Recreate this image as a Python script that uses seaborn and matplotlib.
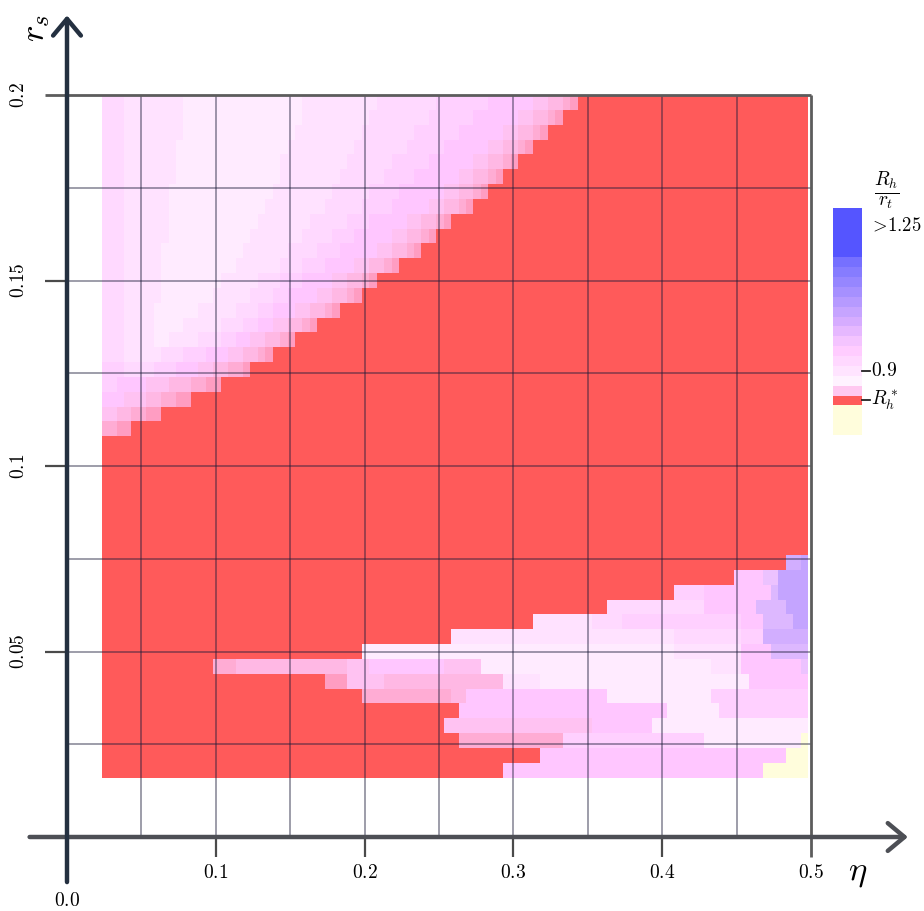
import numpy as np
import matplotlib
matplotlib.use("Agg")
import matplotlib.pyplot as plt
from matplotlib.colors import ListedColormap
import seaborn as sns

plt.rcParams["mathtext.fontset"] = "cm"

# map extent (eta across, r_s up); 95 columns x 46 rows, top row first
ETA_MIN, ETA_MAX = 0.0233, 0.498
RS_MIN, RS_MAX = 0.016, 0.2

# colour codes used in the rows
CODES = "YRabcdefghijklm"
CODE_COLORS = ["#fffddc", "#ff5a5a", "#ff9dc2", "#ffacd4", "#ffb8e4", "#ffc2f2",
               "#ffc6ff", "#ffd0ff", "#ffd9ff", "#ffe2ff", "#ffebff",
               "#ecc2ff", "#ddb8ff", "#d2aeff", "#c4a4ff"]

# run-length rows: code letter + number of cells
ROWS = [
    "g3 h8 i16 h10 g8 f7 e6 d2 c2 b1 a1 R31",
    "g3 h8 i16 h9 g8 f6 e6 d2 c2 b1 a1 R33",
    "g3 h8 i15 h9 g7 f6 e6 d2 c2 b1 a1 R35",
    "g3 h7 i15 h9 g7 f5 e6 d2 c2 b1 a1 R37",
    "g3 h7 i14 h9 g6 f5 e6 d2 c2 b1 a1 R39",
    "g3 h7 i14 h8 g6 f4 e6 d2 c2 b1 a1 R41",
    "g3 h6 i14 h8 g5 f4 e6 d2 c2 b1 a1 R43",
    "g3 h6 i13 h8 g5 f4 e5 d2 c2 b1 a1 R45",
    "g3 h6 i12 h7 g5 f3 e5 d2 c2 b1 a1 R48",
    "g3 h6 i11 h7 g4 f3 e5 d2 c2 b1 a1 R50",
    "g3 h5 i11 h6 g4 f3 e5 d2 c2 b1 a1 R52",
    "g3 h5 i10 h6 g3 f3 e4 d2 c2 b1 a1 R55",
    "g3 h5 i8 h5 g3 f3 e4 d2 c2 b1 a1 R58",
    "g3 h5 i7 h5 g3 f2 e4 d2 c2 b1 a1 R60",
    "g3 h4 i6 h5 g3 f2 e3 d2 c2 b1 a1 R63",
    "g3 h4 i4 h5 g3 f2 e2 d2 c2 b1 a1 R66",
    "g3 h4 i2 h4 g3 f2 e2 d2 c2 b1 a1 R69",
    "g3 h5 g3 f3 e3 d2 c2 b1 a1 R72",
    "f3 g4 f3 e3 d2 c2 b2 a1 R75",
    "f2 e4 d3 c3 b2 a2 R79",
    "e3 d3 c2 b2 a2 R83",
    "d2 c2 b2 a2 R87",
    "b2 a2 R91",
    "R95", "R95", "R95", "R95", "R95", "R95", "R95", "R95",
    "R92 l2 m1",
    "R85 e4 j2 m4",
    "R77 f4 e9 k1 m4",
    "R68 g13 e7 k4 m3",
    "R58 h8 g4 f16 e3 k4 m2",
    "R47 h30 g9 f3 l6",
    "R35 i42 h9 e4 k5",
    "R15 b3 c15 d3 e10 d5 i31 h4 e8 j1",
    "R30 a3 d5 c16 h5 i28 e8",
    "R35 b12 c2 e19 i14 f13",
    "R48 e28 i7 f12",
    "R46 d20 e8 i21",
    "R48 b14 f19 i13 Y1",
    "R59 e33 Y3",
    "R54 e35 Y6",
]

# colour bar bands, top to bottom
CBAR_COLORS = ["#5555ff"] * 5 + [
    "#7670ff", "#867cff", "#9686ff", "#a690ff", "#b69aff", "#c6a4ff", "#d6acff",
    "#e6b8ff", "#f4c4ff", "#ffccff", "#ffd8ff", "#ffe4ff", "#fff2ff", "#ffc8f0",
    "#ff5a5a"] + ["#fffddc"] * 3

ETA_TICKS = [0.1, 0.2, 0.3, 0.4, 0.5]
RS_TICKS = [0.05, 0.1, 0.15, 0.2]
ETA_GRID = [0.05, 0.1, 0.15, 0.2, 0.25, 0.3, 0.35, 0.4, 0.45]
RS_GRID = [0.025, 0.05, 0.075, 0.1, 0.125, 0.15, 0.175]


def decode(row):
    out = []
    for tok in row.split():
        out += [CODES.index(tok[0])] * int(tok[1:])
    return out


grid = np.array([decode(r) for r in ROWS])

W, H = 924, 911
fig = plt.figure(figsize=(W / 100, H / 100), dpi=100)
x0, xs = 67, 1488.0   # pixel of eta=0, pixels per unit eta
y0, ys = 837, 3710.0  # pixel of r_s=0, pixels per unit r_s

ax = fig.add_axes([0, 0, 1, 1])
ax.set_xlim(-x0 / xs, (W - x0) / xs)
ax.set_ylim(-(H - y0) / ys, y0 / ys)
ax.set_axis_off()
ax.set_zorder(3)
ax.patch.set_visible(False)

hax = fig.add_axes([(x0 + ETA_MIN * xs) / W, (H - y0 + RS_MIN * ys) / H,
                    (ETA_MAX - ETA_MIN) * xs / W, (RS_MAX - RS_MIN) * ys / H])
sns.heatmap(grid, ax=hax, cmap=ListedColormap(CODE_COLORS), vmin=-0.5,
            vmax=len(CODES) - 0.5, cbar=False, xticklabels=False, yticklabels=False)
hax.set_axis_off()

# grid lines
gkw = dict(color="#1c1c3a", lw=1.1, alpha=0.55, solid_capstyle="butt")
for e in ETA_GRID:
    ax.plot([e, e], [0, 0.2], **gkw)
for r in RS_GRID:
    ax.plot([0, 0.5], [r, r], **gkw)
fkw = dict(color="#5c5c5c", lw=2, solid_capstyle="butt")
ax.plot([-0.015, 0.5], [0.2, 0.2], **fkw)
ax.plot([0.5, 0.5], [-0.0055, 0.2], **fkw)
tkw = dict(color="#4a4a4a", lw=1.6, solid_capstyle="butt")
for e in ETA_TICKS[:-1]:
    ax.plot([e, e], [-0.0055, 0], **tkw)
for r in RS_TICKS[:-1]:
    ax.plot([-0.015, 0], [r, r], **tkw)

# axis arrows
ax.annotate("", xy=(0.567, 0), xytext=(-0.027, 0),
            arrowprops=dict(arrowstyle="->,head_length=0.6,head_width=0.5",
                            lw=3.2, color="#4d4f55", mutation_scale=20))
ax.annotate("", xy=(0, 0.2222), xytext=(0, -0.0129),
            arrowprops=dict(arrowstyle="->,head_length=0.6,head_width=0.5",
                            lw=3.2, color="#243040", mutation_scale=20))

for e in ETA_TICKS:
    ax.text(e, -0.0097, f"${e:g}$", ha="center", va="center", fontsize=14)
ax.text(0, -0.0172, "$0.0$", ha="center", va="center", fontsize=14)
for r in RS_TICKS:
    ax.text(-0.0323, r, f"${r:g}$", ha="center", va="center", fontsize=14, rotation=90)
ax.text(0.5316, -0.0094, r"$\eta$", ha="center", va="center", fontsize=25)
ax.text(-0.0215, 0.2180, r"$r_s$", ha="center", va="center", fontsize=25, rotation=90)

# colour bar
cax = fig.add_axes([833 / W, (H - 435) / H, 29 / W, 227 / H])
sns.heatmap(np.arange(len(CBAR_COLORS)).reshape(-1, 1), ax=cax,
            cmap=ListedColormap(CBAR_COLORS), cbar=False,
            xticklabels=False, yticklabels=False)
cax.set_axis_off()
for yb, lab in [(16.5, "$0.9$"), (19.5, r"$R_h^*$")]:
    cax.plot([1.0, 1.27], [yb, yb], color="#222222", lw=1.3, clip_on=False)
    cax.text(1.3, yb, lab, ha="left", va="center", fontsize=14)
cax.text(1.25, 1.7, r"$>\!1.25$", ha="left", va="center", fontsize=13.5)
cax.text(1.86, -1.7, r"$\frac{R_h}{r_t}$", ha="center", va="center", fontsize=20)

fig.savefig("out.png", dpi=100)
